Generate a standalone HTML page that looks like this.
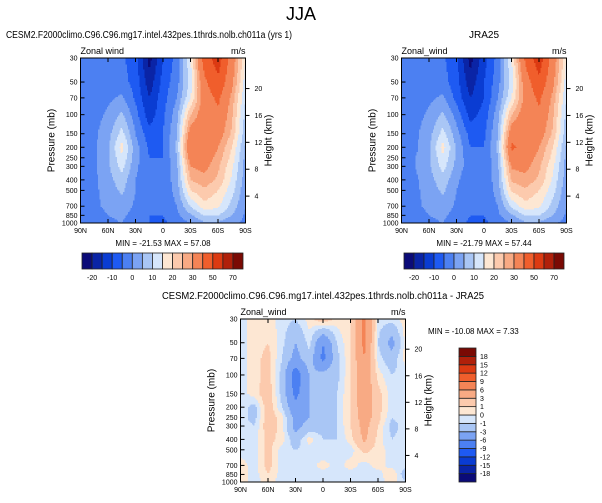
<!DOCTYPE html>
<html><head><meta charset="utf-8">
<style>
body{margin:0;background:#fff;}
svg{display:block;font-family:"Liberation Sans",Arial,sans-serif;}
</style></head>
<body>
<svg id="fig" width="602" height="503" viewBox="0 0 602 503">
<text x="301" y="20" font-size="18" text-anchor="middle">JJA</text>
</svg>
<script>
const lats = ["90N","75N","60N","45N","30N","15N","0","15S","30S","45S","60S","75S","90S"];
const levels = [30,50,70,100,150,200,250,300,400,500,700,850,1000];
const pTicks = [30,50,70,100,150,200,250,300,400,500,700,850,1000];
const hTicks = [4,8,12,16,20];
const xTickLabels = ["90N","60N","30N","0","30S","60S","90S"];
const fullLevels = [-20,-15,-10,-5,0,5,10,15,20,25,30,40,50,60,70];
const fullLabels = ["-20","-10","0","10","20","30","50","70"];
const diffLevels = [-18,-15,-12,-9,-6,-3,-1,0,1,3,6,9,12,15,18];
const colors = ["#0b0b78","#0a24a6","#0a3cd2","#1e5af2","#4c80f2","#7ba3f3","#a9c6f5","#d6e6fb","#fde7d3","#fccaad","#f8aa84","#f48456","#f05e2c","#dc3a12","#b0200a","#7a0a04"];

const cesm = [
[-3,-3,-3,-4,-8,-22,-10,-3,15,45,55,35,15],
[-3,-3,-3,-3,-7,-18,-8,-2,12,38,48,32,12],
[-3,-3,-1,1,-6,-15,-7,0,15,35,42,28,10],
[-3,-2,1,6,-3,-13,-6,3,25,35,38,26,8],
[-3,-1,3,12,0,-8,-5,5,35,36,34,24,6],
[-3,-1,4,17,2,-6,-5,6,40,36,30,20,4],
[-3,-1,4,14,2,-5,-5,5,35,34,28,18,3],
[-3,-1,4,12,1,-4,-5,4,30,32,26,16,3],
[-3,-1,3,8,0,-4,-4,3,25,28,24,14,2],
[-3,-1,2,6,0,-4,-4,2,20,24,20,12,1],
[-3,-1,1,3,-1,-4,-4,0,10,18,16,8,0],
[-3,-2,0,1,-2,-5,-5,-1,4,10,10,5,-1],
[-3,-2,-1,0,-3,-5,-6,-3,0,4,4,1,-1]];
const jra = [
[-3,-3,-3,-4,-9,-22,-12,-3,15,42,56,35,15],
[-3,-3,-3,-3,-8,-18,-10,-2,12,35,48,32,12],
[-3,-3,-1,1,-7,-15,-10,0,15,33,42,28,10],
[-3,-2,1,6,-2,-12,-8,3,25,35,38,26,8],
[-3,-1,3,12,2,-7,-6,5,36,36,34,24,6],
[-3,-1,4,17,4,-5,-5,6,42,36,30,20,4],
[-3,0,4,14,4,-4,-5,5,36,34,28,18,3],
[-3,0,4,12,3,-3,-5,4,31,32,26,16,3],
[-3,-1,3,8,1,-4,-4,3,26,28,24,14,2],
[-3,-1,2,6,0,-4,-4,2,21,24,20,12,1],
[-3,-1,1,3,-1,-4,-4,0,11,18,16,8,0],
[-3,-2,0,1,-2,-5,-5,-1,4,10,10,5,-1],
[-3,-2,-1,0,-3,-6,-6,-3,0,4,4,1,-2]];
const diff = [
[-0.5,0.5,0.5,-0.5,-1,0.5,2,0.5,1,7,-0.5,-0.5,0.5],
[-0.5,0.5,1,-0.5,-3,-0.5,-6,-1,1,7,-1,-4,0.5],
[-0.5,0.5,1.5,-1,-4,-1.5,-7,-1.5,1,6,-0.5,-2,0.5],
[-0.5,0.5,1.5,-1.5,-8,-3,-2,-1.5,1,5,0.5,-1,-0.5],
[-0.5,0.5,2,-1.5,-7,-3,-1.5,-1,1,5,1.5,-0.5,-0.5],
[-0.5,-1.5,2,-1,-5,-3,-1.5,-1,1,5,1.5,-0.5,-0.5],
[-0.5,-1.5,2,0.5,-4,-3,-1.5,-1,1,4.5,1.5,-1,-0.5],
[-0.5,-1,2,0.5,-4,-2,-1.5,-1,1,4,1,-1.5,-0.5],
[-0.5,-0.5,1.5,0.5,-2,0.5,-1,-1,0.5,3.5,0.5,-1,-0.5],
[-0.5,-0.5,1.5,-0.5,-1,-0.5,-1,-0.5,-0.5,1.5,0.5,-0.5,-0.5],
[0.5,-0.5,1.5,-0.5,-0.5,-0.5,0.5,-0.5,0.5,-0.5,0.5,-0.5,-0.5],
[0.5,-0.5,1,-0.5,-0.5,-0.5,-0.5,-0.5,-0.5,-0.5,-0.5,1,-2],
[0.5,-0.5,0.5,-0.5,-0.5,-0.5,-0.5,-0.5,-0.5,-0.5,-0.5,0.5,-1]];

const NS="http://www.w3.org/2000/svg";
const svg=document.getElementById('fig');
function mk(tag,attrs,parent){const e=document.createElementNS(NS,tag);for(const k in attrs)e.setAttribute(k,attrs[k]);(parent||svg).appendChild(e);return e;}
function txt(x,y,s,size,anchor,parent){const t=mk('text',{x:x,y:y,'font-size':size,'text-anchor':anchor||'start'},parent);t.textContent=s;return t;}
function colorIdx(v,lv){let i=0;while(i<lv.length&&v>=lv[i])i++;return i;}
const lp0=Math.log(30),lp1=Math.log(1000);
function sample(field,fx,lp){
  const fi=Math.max(0,Math.min(12,fx*12));
  let k=0;while(k<11&&Math.log(levels[k+1])<lp)k++;
  const a=Math.log(levels[k]),b=Math.log(levels[k+1]);
  let t=(lp-a)/(b-a);t=Math.max(0,Math.min(1,t));
  const i0=Math.min(11,Math.floor(fi)),s=fi-i0;
  const v0=field[k][i0]*(1-s)+field[k][i0+1]*s;
  const v1=field[k+1][i0]*(1-s)+field[k+1][i0+1]*s;
  return v0*(1-t)+v1*t;
}
function panel(name,field,lv,X,Y,W,H,title,titleX,titleW,mm,varLabel){
  const g=mk('g',{});
  
  
  const xs=x=>X+x*W, yp=p=>Y+H*(Math.log(p)-lp0)/(lp1-lp0);
  const cell=1.25;const nx=Math.round(W/cell),ny=Math.round(H/cell);
  const fg=mk('g',{'shape-rendering':'crispEdges'},g);
  
  
  for(let j=0;j<ny;j++){
    const lp=lp0+(j+0.5)/ny*(lp1-lp0);
    let start=0,cur=null;
    for(let i=0;i<=nx;i++){
      const c=i<nx?colorIdx(sample(field,(i+0.5)/nx,lp),lv):-1;
      if(i===0){cur=c;continue;}
      if(c!==cur){
        mk('rect',{x:(X+start*W/nx).toFixed(2),y:(Y+j*H/ny).toFixed(2),width:((i-start)*W/nx+0.3).toFixed(2),height:(H/ny+0.3).toFixed(2),fill:colors[cur]},fg);
        start=i;cur=c;
      }
    }
  }
  const fr=mk('rect',{x:X,y:Y,width:W,height:H,fill:'none',stroke:'#000','stroke-width':1},g);
  
  
  const xa=mk('g',{},g);
  
  
  xTickLabels.forEach((l,i)=>{const x=xs(i/6);
    mk('line',{x1:x,x2:x,y1:Y+H,y2:Y+H-4,stroke:'#000'},xa);
    mk('line',{x1:x,x2:x,y1:Y,y2:Y+4,stroke:'#000'},xa);
    txt(x,Y+H+10,l,7,'middle',xa);});
  const ya=mk('g',{},g);
  
  
  pTicks.forEach(p=>{const y=yp(p);
    mk('line',{x1:X,x2:X+4,y1:y,y2:y,stroke:'#000'},ya);
    txt(X-3,y+2.5,String(p),7,'end',ya);});
  const yt=txt(X-26,Y+H/2,'Pressure (mb)',10,'middle',ya);
  yt.setAttribute('transform',`rotate(-90 ${X-26} ${Y+H/2})`);
  
  
  const ha=mk('g',{},g);
  
  
  hTicks.forEach(h=>{const y=yp(1000*Math.exp(-h/7));
    mk('line',{x1:X+W,x2:X+W+4,y1:y,y2:y,stroke:'#000'},ha);
    txt(X+W+9,y+2.5,String(h),7,'start',ha);});
  const ht=txt(X+W+26,Y+H/2,'Height (km)',10,'middle',ha);
  ht.setAttribute('transform',`rotate(-90 ${X+W+26} ${Y+H/2})`);
  
  
  const vn=txt(X,Y-4,varLabel,9,'start',g);
  
  
  const un=txt(X+W,Y-4,'m/s',9,'end',g);
  
  
  const tt=txt(titleX,Y-20,title,10,'middle',g);
  if(titleW){tt.setAttribute('textLength',titleW);tt.setAttribute('lengthAdjust','spacingAndGlyphs');}
  
  
  if(mm){const m=txt(mm[0],mm[1],mm[2],8,mm[3],g);
    m.setAttribute('xml:space','preserve');
    
    }
}
panel('cesm-panel',cesm,fullLevels,80.5,58,165,165,'CESM2.F2000climo.C96.C96.mg17.intel.432pes.1thrds.nolb.ch011a (yrs 1)',149,286,[163,246,'MIN = -21.53  MAX =  57.08','middle'],'Zonal wind');
panel('jra-panel',jra,fullLevels,401.5,58,165,165,'JRA25',484,0,[484,246,'MIN = -21.79  MAX =  57.44','middle'],'Zonal_wind');
panel('diff-panel',diff,diffLevels,240.5,319,165,163,'CESM2.F2000climo.C96.C96.mg17.intel.432pes.1thrds.nolb.ch011a - JRA25',323,322,[428,334,'MIN = -10.08  MAX =   7.33','start'],'Zonal_wind');

function hbar(name,X,Y,W,H){
  const g=mk('g',{});
  
  
  const bw=W/16;
  colors.forEach((c,i)=>{const r=mk('rect',{x:X+i*bw,y:Y,width:bw,height:H,fill:c,stroke:'#222','stroke-width':0.8},g);
    
    });
  fullLabels.forEach((l,i)=>txt(X+(2*i+1)*bw,Y+H+11,l,7,'middle',g));
}
hbar('cesm-colorbar',82,253,161,16);
hbar('jra-colorbar',404,253,160,16);
(function(){
  const g=mk('g',{});
  
  
  const X=459,Y=348,W=17,H=134,bh=H/16;
  colors.forEach((c,i)=>{const r=mk('rect',{x:X,y:Y+(15-i)*bh,width:W,height:bh,fill:c,stroke:'#222','stroke-width':0.8},g);
    
    });
  diffLevels.forEach((l,i)=>txt(X+W+4,Y+(15-i)*bh+2.5,String(l),7,'start',g));
})();
</script>
</body></html>
